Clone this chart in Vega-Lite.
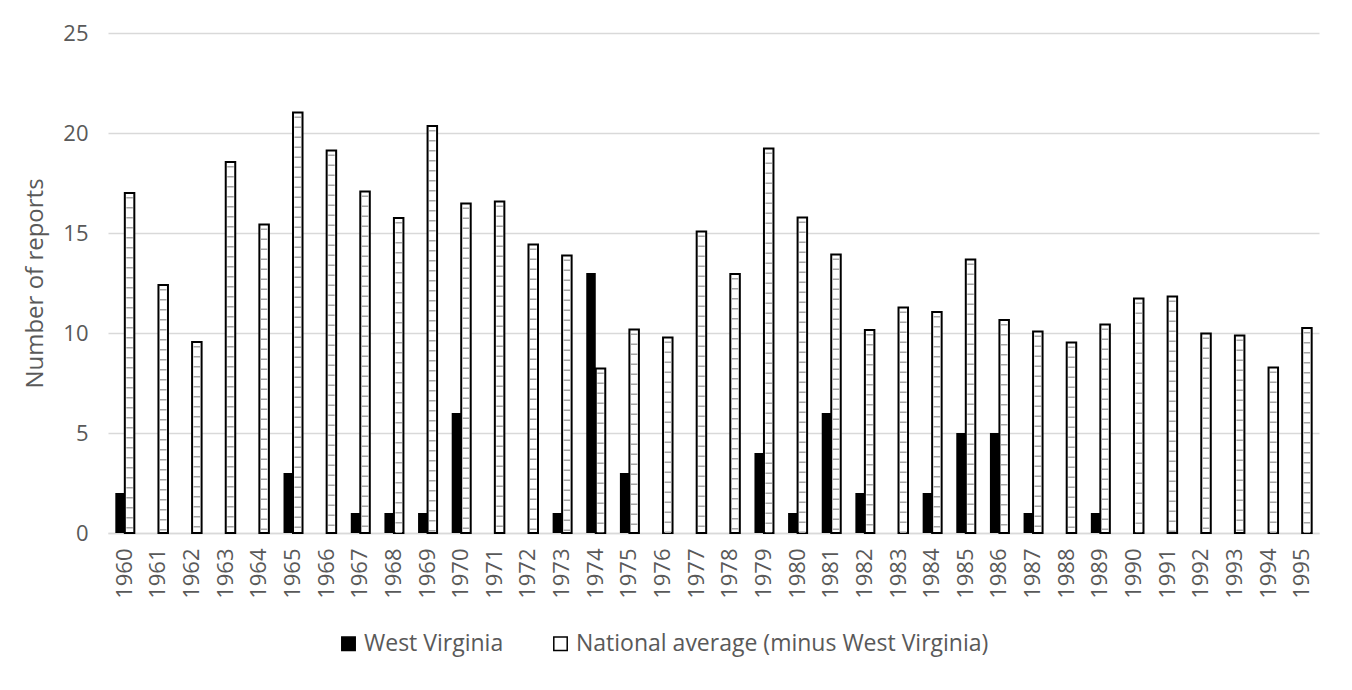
{
  "$schema": "https://vega.github.io/schema/vega-lite/v6.json",
  "width": 1211,
  "height": 500,
  "autosize": {"type": "none"},
  "padding": {"left": 108, "top": 33, "right": 33, "bottom": 157},
  "background": "white",
  "config": {
    "font": "Open Sans",
    "view": {"stroke": null},
    "axis": {
      "labelColor": "#595959",
      "titleColor": "#595959",
      "labelFont": "Open Sans",
      "titleFont": "Open Sans",
      "gridColor": "#d9d9d9",
      "gridWidth": 1.5,
      "domainColor": "#d9d9d9",
      "domainWidth": 1.5,
      "ticks": false
    },
    "legend": {
      "labelColor": "#595959",
      "labelFont": "Open Sans"
    }
  },
  "data": {
    "values": [
      {"year": "1960", "series": "West Virginia", "reports": 2},
      {"year": "1961", "series": "West Virginia", "reports": 0},
      {"year": "1962", "series": "West Virginia", "reports": 0},
      {"year": "1963", "series": "West Virginia", "reports": 0},
      {"year": "1964", "series": "West Virginia", "reports": 0},
      {"year": "1965", "series": "West Virginia", "reports": 3},
      {"year": "1966", "series": "West Virginia", "reports": 0},
      {"year": "1967", "series": "West Virginia", "reports": 1},
      {"year": "1968", "series": "West Virginia", "reports": 1},
      {"year": "1969", "series": "West Virginia", "reports": 1},
      {"year": "1970", "series": "West Virginia", "reports": 6},
      {"year": "1971", "series": "West Virginia", "reports": 0},
      {"year": "1972", "series": "West Virginia", "reports": 0},
      {"year": "1973", "series": "West Virginia", "reports": 1},
      {"year": "1974", "series": "West Virginia", "reports": 13},
      {"year": "1975", "series": "West Virginia", "reports": 3},
      {"year": "1976", "series": "West Virginia", "reports": 0},
      {"year": "1977", "series": "West Virginia", "reports": 0},
      {"year": "1978", "series": "West Virginia", "reports": 0},
      {"year": "1979", "series": "West Virginia", "reports": 4},
      {"year": "1980", "series": "West Virginia", "reports": 1},
      {"year": "1981", "series": "West Virginia", "reports": 6},
      {"year": "1982", "series": "West Virginia", "reports": 2},
      {"year": "1983", "series": "West Virginia", "reports": 0},
      {"year": "1984", "series": "West Virginia", "reports": 2},
      {"year": "1985", "series": "West Virginia", "reports": 5},
      {"year": "1986", "series": "West Virginia", "reports": 5},
      {"year": "1987", "series": "West Virginia", "reports": 1},
      {"year": "1988", "series": "West Virginia", "reports": 0},
      {"year": "1989", "series": "West Virginia", "reports": 1},
      {"year": "1990", "series": "West Virginia", "reports": 0},
      {"year": "1991", "series": "West Virginia", "reports": 0},
      {"year": "1992", "series": "West Virginia", "reports": 0},
      {"year": "1993", "series": "West Virginia", "reports": 0},
      {"year": "1994", "series": "West Virginia", "reports": 0},
      {"year": "1995", "series": "West Virginia", "reports": 0},
      {"year": "1960", "series": "National average (minus West Virginia)", "reports": 17.0},
      {"year": "1961", "series": "National average (minus West Virginia)", "reports": 12.4},
      {"year": "1962", "series": "National average (minus West Virginia)", "reports": 9.55},
      {"year": "1963", "series": "National average (minus West Virginia)", "reports": 18.55},
      {"year": "1964", "series": "National average (minus West Virginia)", "reports": 15.43},
      {"year": "1965", "series": "National average (minus West Virginia)", "reports": 21.03},
      {"year": "1966", "series": "National average (minus West Virginia)", "reports": 19.12},
      {"year": "1967", "series": "National average (minus West Virginia)", "reports": 17.08},
      {"year": "1968", "series": "National average (minus West Virginia)", "reports": 15.75},
      {"year": "1969", "series": "National average (minus West Virginia)", "reports": 20.35},
      {"year": "1970", "series": "National average (minus West Virginia)", "reports": 16.48},
      {"year": "1971", "series": "National average (minus West Virginia)", "reports": 16.58},
      {"year": "1972", "series": "National average (minus West Virginia)", "reports": 14.43},
      {"year": "1973", "series": "National average (minus West Virginia)", "reports": 13.88},
      {"year": "1974", "series": "National average (minus West Virginia)", "reports": 8.23},
      {"year": "1975", "series": "National average (minus West Virginia)", "reports": 10.17},
      {"year": "1976", "series": "National average (minus West Virginia)", "reports": 9.77},
      {"year": "1977", "series": "National average (minus West Virginia)", "reports": 15.08},
      {"year": "1978", "series": "National average (minus West Virginia)", "reports": 12.95},
      {"year": "1979", "series": "National average (minus West Virginia)", "reports": 19.22},
      {"year": "1980", "series": "National average (minus West Virginia)", "reports": 15.77},
      {"year": "1981", "series": "National average (minus West Virginia)", "reports": 13.92},
      {"year": "1982", "series": "National average (minus West Virginia)", "reports": 10.15},
      {"year": "1983", "series": "National average (minus West Virginia)", "reports": 11.28},
      {"year": "1984", "series": "National average (minus West Virginia)", "reports": 11.05},
      {"year": "1985", "series": "National average (minus West Virginia)", "reports": 13.67},
      {"year": "1986", "series": "National average (minus West Virginia)", "reports": 10.65},
      {"year": "1987", "series": "National average (minus West Virginia)", "reports": 10.07},
      {"year": "1988", "series": "National average (minus West Virginia)", "reports": 9.52},
      {"year": "1989", "series": "National average (minus West Virginia)", "reports": 10.42},
      {"year": "1990", "series": "National average (minus West Virginia)", "reports": 11.72},
      {"year": "1991", "series": "National average (minus West Virginia)", "reports": 11.82},
      {"year": "1992", "series": "National average (minus West Virginia)", "reports": 9.98},
      {"year": "1993", "series": "National average (minus West Virginia)", "reports": 9.88},
      {"year": "1994", "series": "National average (minus West Virginia)", "reports": 8.27},
      {"year": "1995", "series": "National average (minus West Virginia)", "reports": 10.25}
    ]
  },
  "encoding": {
    "x": {
      "field": "year",
      "type": "nominal",
      "scale": {"paddingInner": 0.435, "paddingOuter": 0.2175},
      "axis": {
        "title": null,
        "labelAngle": -90,
        "labelFontSize": 22,
        "labelPadding": 15,
        "grid": false
      }
    },
    "xOffset": {
      "field": "series",
      "type": "nominal",
      "scale": {
        "domain": ["West Virginia", "National average (minus West Virginia)"],
        "paddingInner": 0,
        "paddingOuter": 0
      }
    },
    "y": {
      "field": "reports",
      "type": "quantitative",
      "scale": {"domain": [0, 25], "nice": false},
      "axis": {
        "title": "Number of reports",
        "titleFontSize": 24,
        "titleFontWeight": "normal",
        "titlePadding": 15,
        "labelFontSize": 22,
        "labelPadding": 20,
        "values": [0, 5, 10, 15, 20, 25],
        "domain": false
      }
    }
  },
  "layer": [
    {
      "transform": [{"filter": "datum.series === 'West Virginia'"}],
      "mark": {"type": "bar"},
      "encoding": {
        "fill": {
          "field": "series",
          "type": "nominal",
          "scale": {
            "domain": ["West Virginia", "National average (minus West Virginia)"],
            "range": ["#000000", "#ffffff"]
          },
          "legend": {
            "title": null,
            "orient": "none",
            "direction": "horizontal",
            "legendX": 229,
            "legendY": 599,
            "symbolType": "square",
            "symbolSize": 180,
            "symbolStrokeColor": "#000000",
            "symbolStrokeWidth": 1.5,
            "labelFontSize": 23,
            "labelLimit": 800,
            "labelOffset": 4,
            "columnPadding": 45
          }
        }
      }
    },
    {
      "transform": [{"filter": "datum.series !== 'West Virginia'"}],
      "mark": {"type": "bar", "stroke": "#000000", "strokeWidth": 2},
      "encoding": {
        "fill": {"field": "series", "type": "nominal"}
      }
    },
    {
      "transform": [{"filter": "datum.series !== 'West Virginia'"}],
      "mark": {
        "type": "rule",
        "stroke": "#a6a6a6",
        "strokeWidth": 6.5,
        "strokeDash": [1.5, 8.5],
        "strokeDashOffset": -4,
        "strokeCap": "butt"
      },
      "encoding": {
        "y2": {"datum": 0}
      }
    }
  ]
}
